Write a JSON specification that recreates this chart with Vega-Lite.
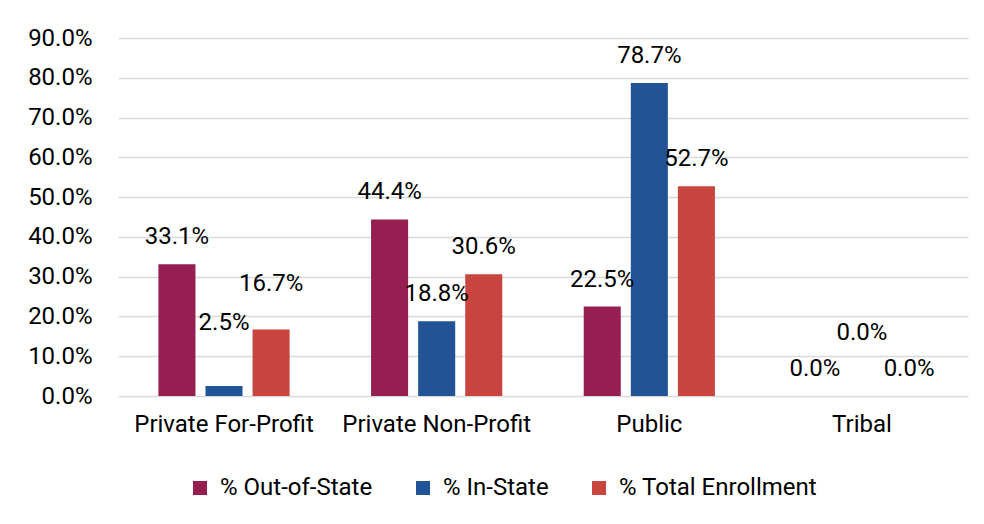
{
  "$schema": "https://vega.github.io/schema/vega-lite/v6.json",
  "autosize": "none",
  "width": 850,
  "height": 358,
  "padding": {"left": 118, "top": 38, "right": 16, "bottom": 128},
  "background": "white",
  "data": {
    "values": [
      {"Sector": "Private For-Profit", "Series": "% Out-of-State", "Value": 0.331},
      {"Sector": "Private For-Profit", "Series": "% In-State", "Value": 0.025},
      {"Sector": "Private For-Profit", "Series": "% Total Enrollment", "Value": 0.167},
      {"Sector": "Private Non-Profit", "Series": "% Out-of-State", "Value": 0.444},
      {"Sector": "Private Non-Profit", "Series": "% In-State", "Value": 0.188},
      {"Sector": "Private Non-Profit", "Series": "% Total Enrollment", "Value": 0.306},
      {"Sector": "Public", "Series": "% Out-of-State", "Value": 0.225},
      {"Sector": "Public", "Series": "% In-State", "Value": 0.787},
      {"Sector": "Public", "Series": "% Total Enrollment", "Value": 0.527},
      {"Sector": "Tribal", "Series": "% Out-of-State", "Value": 0.0},
      {"Sector": "Tribal", "Series": "% In-State", "Value": 0.0},
      {"Sector": "Tribal", "Series": "% Total Enrollment", "Value": 0.0}
    ]
  },
  "encoding": {
    "x": {
      "field": "Sector",
      "type": "nominal",
      "sort": ["Private For-Profit", "Private Non-Profit", "Public", "Tribal"],
      "scale": {"paddingInner": 0.383, "paddingOuter": 0.19},
      "axis": {
        "title": null,
        "labelAngle": 0,
        "domain": false,
        "ticks": false,
        "labelPadding": 16,
        "labelFontSize": 24,
        "labelFont": "Roboto",
        "labelColor": "#000000",
        "labelLimit": 0
      }
    },
    "xOffset": {
      "field": "Series",
      "type": "nominal",
      "sort": ["% Out-of-State", "% In-State", "% Total Enrollment"],
      "scale": {"paddingInner": 0.213, "paddingOuter": 0}
    },
    "y": {
      "field": "Value",
      "type": "quantitative",
      "scale": {"domain": [0, 0.9], "nice": false, "zero": true},
      "axis": {
        "title": null,
        "format": ".1%",
        "values": [0, 0.1, 0.2, 0.3, 0.4, 0.5, 0.6, 0.7, 0.8, 0.9],
        "domain": false,
        "ticks": false,
        "labelPadding": 26,
        "labelFontSize": 24,
        "labelFont": "Roboto",
        "labelColor": "#000000",
        "gridColor": "#d9d9d9",
        "gridWidth": 1.5
      }
    }
  },
  "layer": [
    {
      "mark": {"type": "bar"},
      "encoding": {
        "color": {
          "field": "Series",
          "type": "nominal",
          "sort": ["% Out-of-State", "% In-State", "% Total Enrollment"],
          "scale": {
            "domain": ["% Out-of-State", "% In-State", "% Total Enrollment"],
            "range": ["#961E50", "#225396", "#C8453F"]
          },
          "legend": {
            "title": null,
            "orient": "none",
            "direction": "horizontal",
            "legendX": 70,
            "legendY": 438,
            "symbolType": "square",
            "symbolSize": 196,
            "symbolStrokeWidth": 0,
            "labelFontSize": 24,
            "labelFont": "Roboto",
            "labelColor": "#000000",
            "labelOffset": 8,
            "labelLimit": 0,
            "columnPadding": 38
          }
        }
      }
    },
    {
      "transform": [
        {"filter": "!(datum.Series == '% In-State' && (datum.Sector == 'Private For-Profit' || datum.Sector == 'Tribal')) && !(datum.Series == '% Total Enrollment' && datum.Sector == 'Private For-Profit')"}
      ],
      "mark": {"type": "text", "baseline": "middle", "dy": -27, "fontSize": 24, "font": "Roboto", "color": "#000000"},
      "encoding": {"text": {"field": "Value", "type": "quantitative", "format": ".1%"}}
    },
    {
      "transform": [
        {"filter": "datum.Series == '% In-State' && (datum.Sector == 'Private For-Profit' || datum.Sector == 'Tribal')"}
      ],
      "mark": {"type": "text", "baseline": "middle", "dy": -63, "fontSize": 24, "font": "Roboto", "color": "#000000"},
      "encoding": {"text": {"field": "Value", "type": "quantitative", "format": ".1%"}}
    },
    {
      "transform": [
        {"filter": "datum.Series == '% Total Enrollment' && datum.Sector == 'Private For-Profit'"}
      ],
      "mark": {"type": "text", "baseline": "middle", "dy": -46, "fontSize": 24, "font": "Roboto", "color": "#000000"},
      "encoding": {"text": {"field": "Value", "type": "quantitative", "format": ".1%"}}
    }
  ],
  "config": {
    "view": {"stroke": null}
  }
}
